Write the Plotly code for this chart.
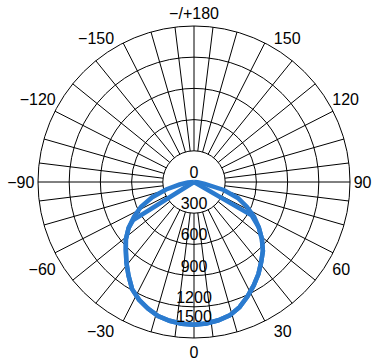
import plotly.graph_objects as go

# Angular grid lines (degrees) within each quadrant, as drawn in the reference
grid_offsets = [0, 7, 16, 27, 39, 51, 63, 74, 83]
grid_angles = [q * 90 + g for q in range(4) for g in grid_offsets]

# Angular tick labels
angle_ticks = [0, 30, 60, 90, 120, 150, 180, 210, 240, 270, 300, 330]
angle_labels = ["0", "30", "60", "90", "120", "150", "\u2212/+180",
                "\u2212150", "\u2212120", "\u221290", "\u221260", "\u221230"]

# Radial ticks (cd)
radial_ticks = [0, 300, 600, 900, 1200, 1500]
radial_labels = ["0", "300", "600", "900", "1200", "1500"]

# Curve A (C90-C270 plane, full)
theta_a = [-90, -85, -80, -75, -70, -65, -60, -55, -50, -45, -40, -35, -30, -25,
           -20, -15, -10, -5, 0, 5, 10, 15, 20, 25, 30, 35, 40, 45, 50, 55, 60,
           65, 70, 75, 80, 85, 90]
r_a = [0, 60, 140, 278, 427, 562, 666, 767, 855, 927, 1011, 1098, 1190, 1250,
       1295, 1335, 1355, 1368, 1373, 1365, 1350, 1328, 1280, 1215, 1148, 1080,
       1005, 937, 852, 760, 667, 560, 448, 296, 105, 35, 0]

# Curve B (C0-C180 plane, cut off near +/-60 deg)
theta_b = [-90, -70, -60, -58, -55, -50, -45, -40, -35, -30, -25, -20, -15, -10,
           -5, 0, 5, 10, 15, 20, 25, 30, 35, 40, 45, 50, 55, 60, 62, 70, 90]
r_b = [0, 0, 0, 690, 767, 855, 927, 1011, 1098, 1190, 1250, 1295, 1335, 1355,
       1368, 1373, 1365, 1350, 1328, 1280, 1215, 1148, 1080, 1005, 937, 852,
       760, 640, 0, 0, 0]

BLUE = "#2b7bcf"
FONT = "Liberation Sans Narrow, Arial Narrow, Liberation Sans, sans-serif"

fig = go.Figure()

# grid subplot (angular spokes outside the central hole)
fig.add_trace(go.Scatterpolar(r=[None], theta=[None], subplot="polar",
                              mode="lines", showlegend=False, hoverinfo="skip"))

# data subplot
fig.add_trace(go.Scatterpolar(r=r_a, theta=theta_a, subplot="polar2", mode="lines",
                              line=dict(color=BLUE, width=4.5), showlegend=False))
fig.add_trace(go.Scatterpolar(r=r_b, theta=theta_b, subplot="polar2", mode="lines",
                              line=dict(color=BLUE, width=4.5), showlegend=False))

label_r = [v if v < radial_ticks[-1] else v - 115 for v in radial_ticks]
fig.add_trace(go.Scatterpolar(r=label_r, theta=[0] * len(radial_ticks),
                              subplot="polar2", mode="text", text=radial_labels,
                              textposition="top center",
                              textfont=dict(family=FONT, size=16, color="black"),
                              showlegend=False, hoverinfo="skip"))

common_angular = dict(rotation=-90, direction="counterclockwise")

fig.update_layout(
    width=382, height=363,
    margin=dict(l=38, r=32, t=26, b=25),
    paper_bgcolor="white",
    polar=dict(
        domain=dict(x=[0, 1], y=[0, 1]),
        hole=0.2,
        bgcolor="white",
        radialaxis=dict(range=[300, 1500], showgrid=False, showline=False,
                        showticklabels=False, ticks=""),
        angularaxis=dict(**common_angular, tickmode="array", tickvals=grid_angles,
                         showticklabels=False, ticks="", showgrid=True,
                         gridcolor="black", gridwidth=1, showline=False),
    ),
    polar2=dict(
        domain=dict(x=[0, 1], y=[0, 1]),
        bgcolor="rgba(0,0,0,0)",
        radialaxis=dict(range=[0, 1500], tickmode="array", tickvals=radial_ticks[1:],
                        showgrid=True, gridcolor="black", gridwidth=1,
                        showline=False, showticklabels=False, ticks=""),
        angularaxis=dict(**common_angular, tickmode="array", tickvals=angle_ticks,
                         ticktext=angle_labels, showgrid=False, showline=True,
                         linecolor="black", linewidth=1, ticks="",
                         tickfont=dict(family=FONT, size=16, color="black")),
    ),
)

fig.write_html("out.html")
